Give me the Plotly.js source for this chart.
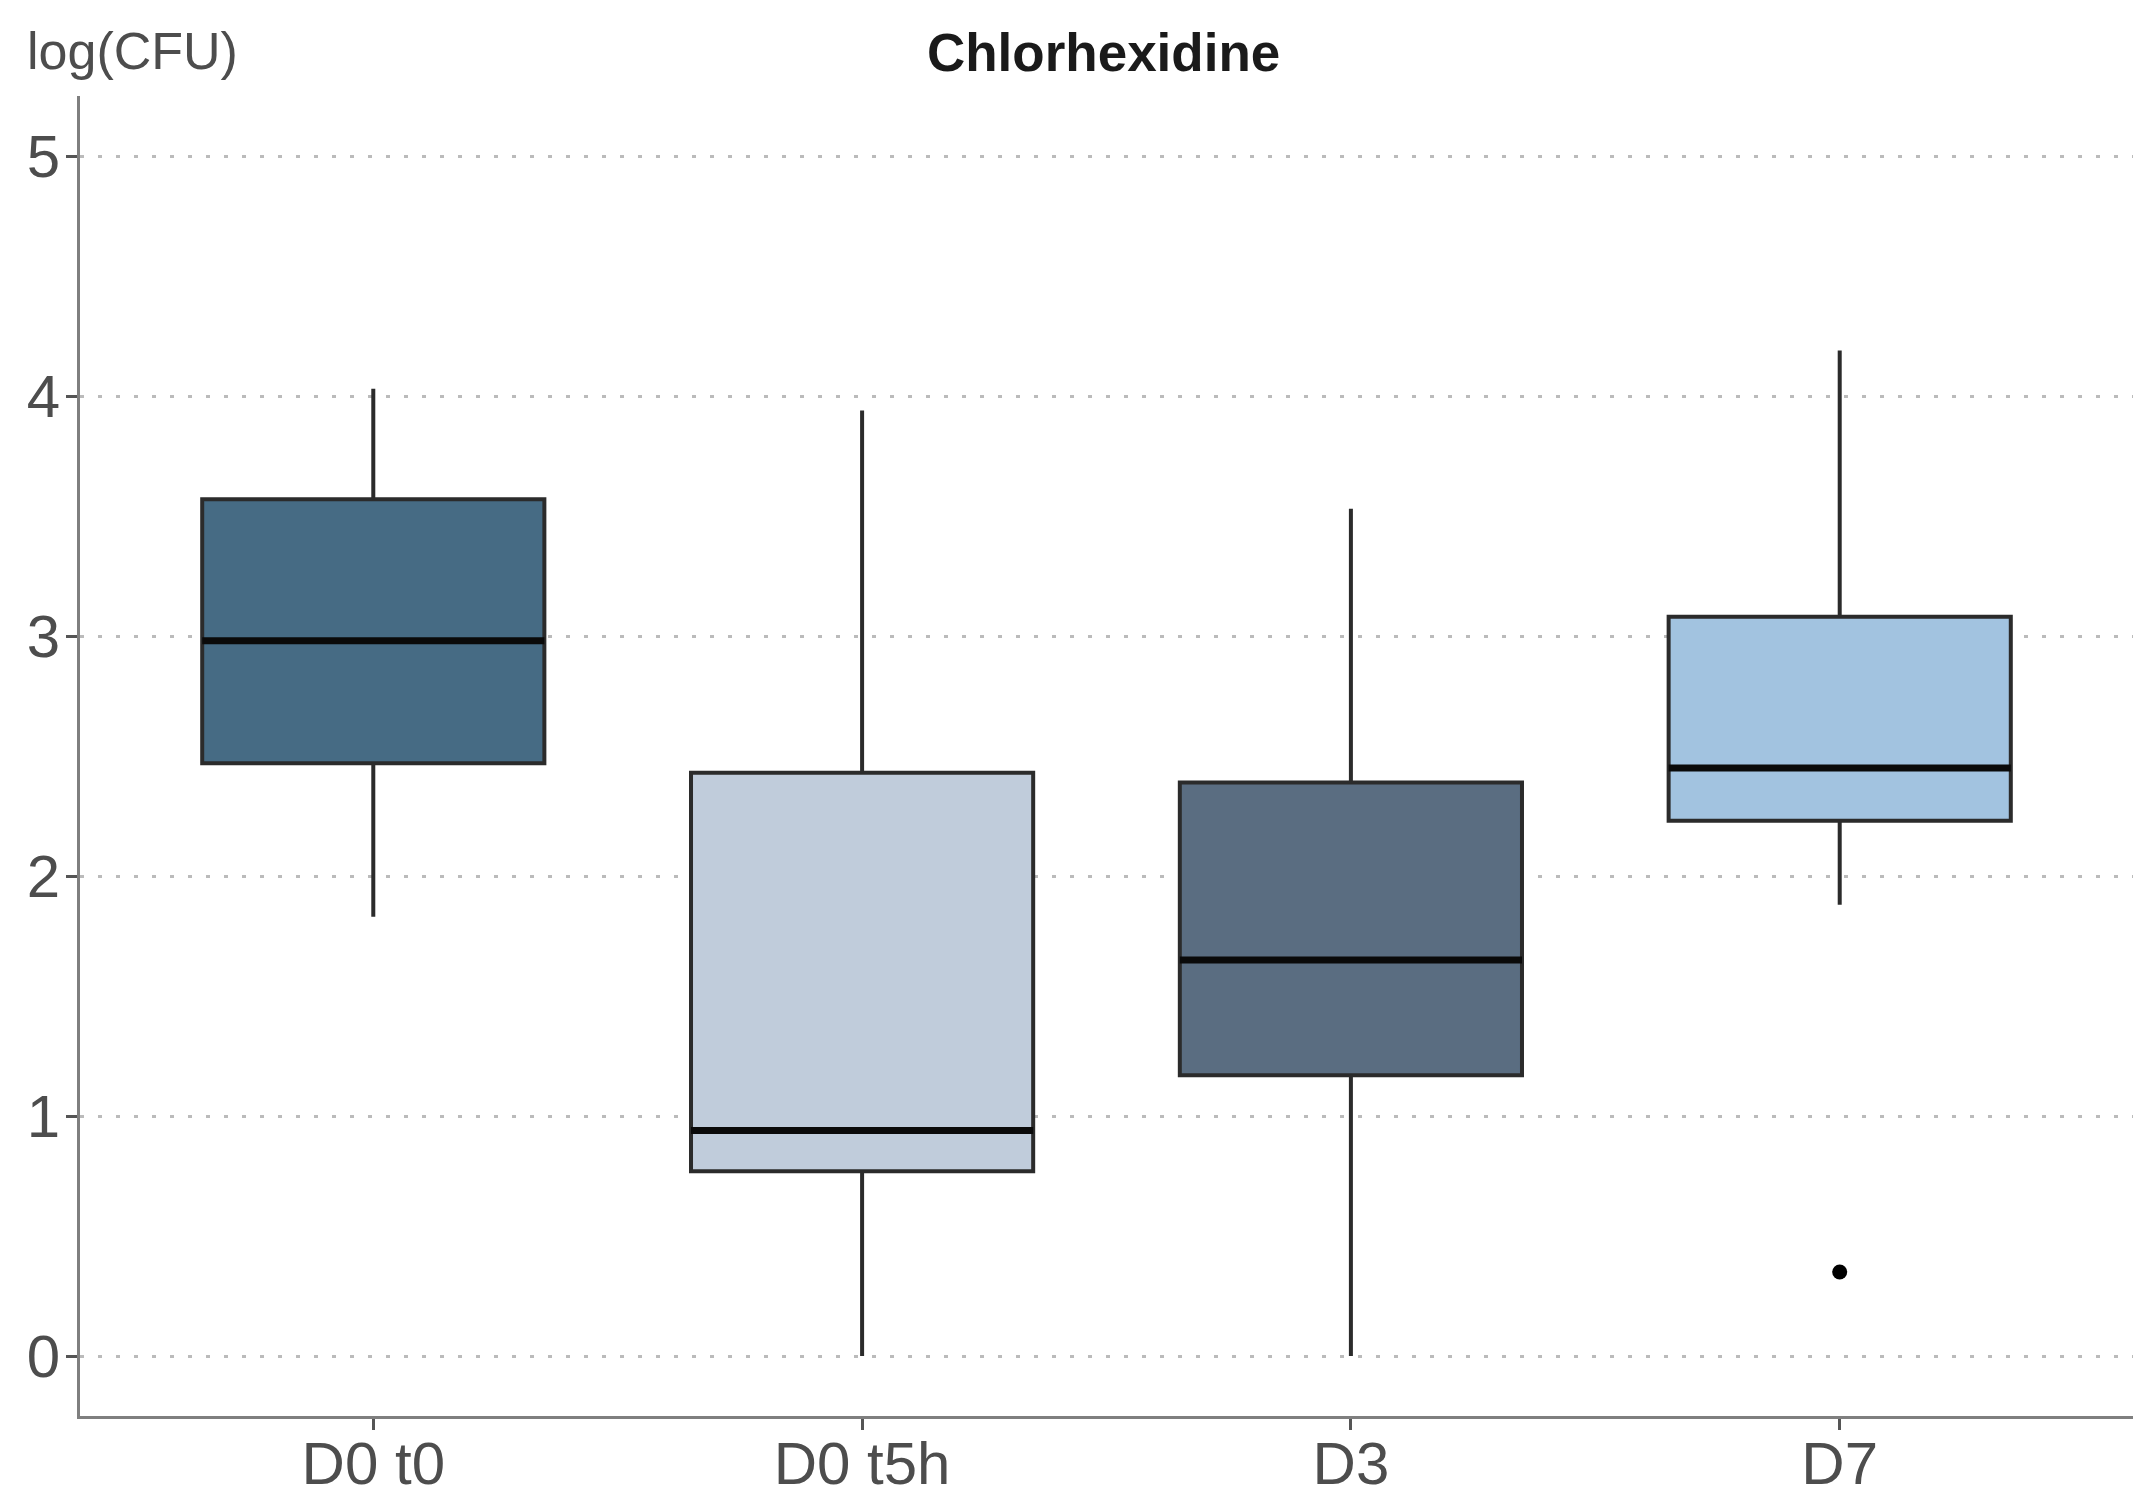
<!DOCTYPE html>
<html>
<head>
<meta charset="utf-8">
<script src="https://cdn.plot.ly/plotly-3.0.1.min.js"></script>
<style>
html,body{margin:0;padding:0;background:#fff;}
#chart{width:2145px;height:1506px;}
</style>
</head>
<body>
<div id="chart"></div>
<script>
// ---- data ----
const categories = ['D0 t0', 'D0 t5h', 'D3', 'D7'];
const q1Values = [2.47, 0.77, 1.17, 2.23];
const medianValues = [2.98, 0.94, 1.65, 2.45];
const q3Values = [3.57, 2.43, 2.39, 3.08];
const lowerWhisker = [1.83, 0.00, 0.00, 1.88];
const upperWhisker = [4.03, 3.94, 3.53, 4.19];
const outlierCategory = ['D7'];
const outlierValues = [0.35];
const yTickValues = [0, 1, 2, 3, 4, 5];
const fillColors = ['#466B84', '#C0CCDB', '#5A6D81', '#A2C3E0'];

const boxWidth = 0.7;
const FONT = 'Liberation Sans, Arial, Helvetica, sans-serif';

const traces = categories.map((c, i) => ({
  type: 'box',
  x: [i],
  q1: [q1Values[i]],
  median: [medianValues[i]],
  q3: [q3Values[i]],
  lowerfence: [lowerWhisker[i]],
  upperfence: [upperWhisker[i]],
  width: boxWidth,
  whiskerwidth: 0,
  fillcolor: fillColors[i],
  line: {color: '#2b2b2b', width: 4},
  boxpoints: false,
  hoverinfo: 'skip',
  showlegend: false
}));

traces.push({
  type: 'scatter',
  mode: 'markers',
  x: outlierCategory.map(c => categories.indexOf(c)),
  y: outlierValues,
  marker: {color: '#000000', size: 15},
  hoverinfo: 'skip',
  showlegend: false
});

const shapes = categories.map((c, i) => ({
  type: 'line',
  xref: 'x', yref: 'y',
  x0: i - boxWidth / 2, x1: i + boxWidth / 2,
  y0: medianValues[i], y1: medianValues[i],
  line: {color: '#0a0a0a', width: 7},
  layer: 'above'
}));

const layout = {
  width: 2145,
  height: 1506,
  margin: {l: 80, r: 12, t: 96, b: 90},
  paper_bgcolor: '#ffffff',
  plot_bgcolor: '#ffffff',
  font: {family: FONT, color: '#4d4d4d'},
  title: {
    text: 'Chlorhexidine',
    font: {family: FONT, size: 53, color: '#1a1a1a', weight: 700},
    x: 0.5145, xanchor: 'center',
    y: 0.965, yanchor: 'middle', yref: 'container'
  },
  xaxis: {
    type: 'linear',
    range: [-0.6, 3.6],
    tickmode: 'array',
    tickvals: categories.map((c, i) => i),
    ticktext: categories,
    showgrid: false,
    zeroline: false,
    showline: true,
    linecolor: '#7f7f7f',
    linewidth: 3,
    ticks: 'outside',
    ticklen: 11,
    tickwidth: 3,
    tickcolor: '#555555',
    ticklabelstandoff: -18,
    tickfont: {family: FONT, size: 60, color: '#4d4d4d'},
    fixedrange: true
  },
  yaxis: {
    range: [-0.25, 5.25],
    tickmode: 'array',
    tickvals: yTickValues,
    ticktext: yTickValues.map(String),
    showgrid: true,
    gridcolor: '#bbbbbb',
    gridwidth: 3,
    griddash: '4px,14px',
    zeroline: false,
    showline: true,
    linecolor: '#7f7f7f',
    linewidth: 3,
    ticks: 'outside',
    ticklen: 11,
    tickwidth: 3,
    tickcolor: '#555555',
    ticklabelstandoff: -6,
    tickfont: {family: FONT, size: 60, color: '#4d4d4d'},
    fixedrange: true
  },
  shapes: shapes,
  annotations: [{
    text: 'log(CFU)',
    xref: 'paper', yref: 'paper',
    x: -0.0268, xanchor: 'left',
    y: 1.034, yanchor: 'middle',
    showarrow: false,
    font: {family: FONT, size: 52, color: '#4d4d4d'}
  }]
};

Plotly.newPlot('chart', traces, layout, {displayModeBar: false, staticPlot: true});
</script>
</body>
</html>
